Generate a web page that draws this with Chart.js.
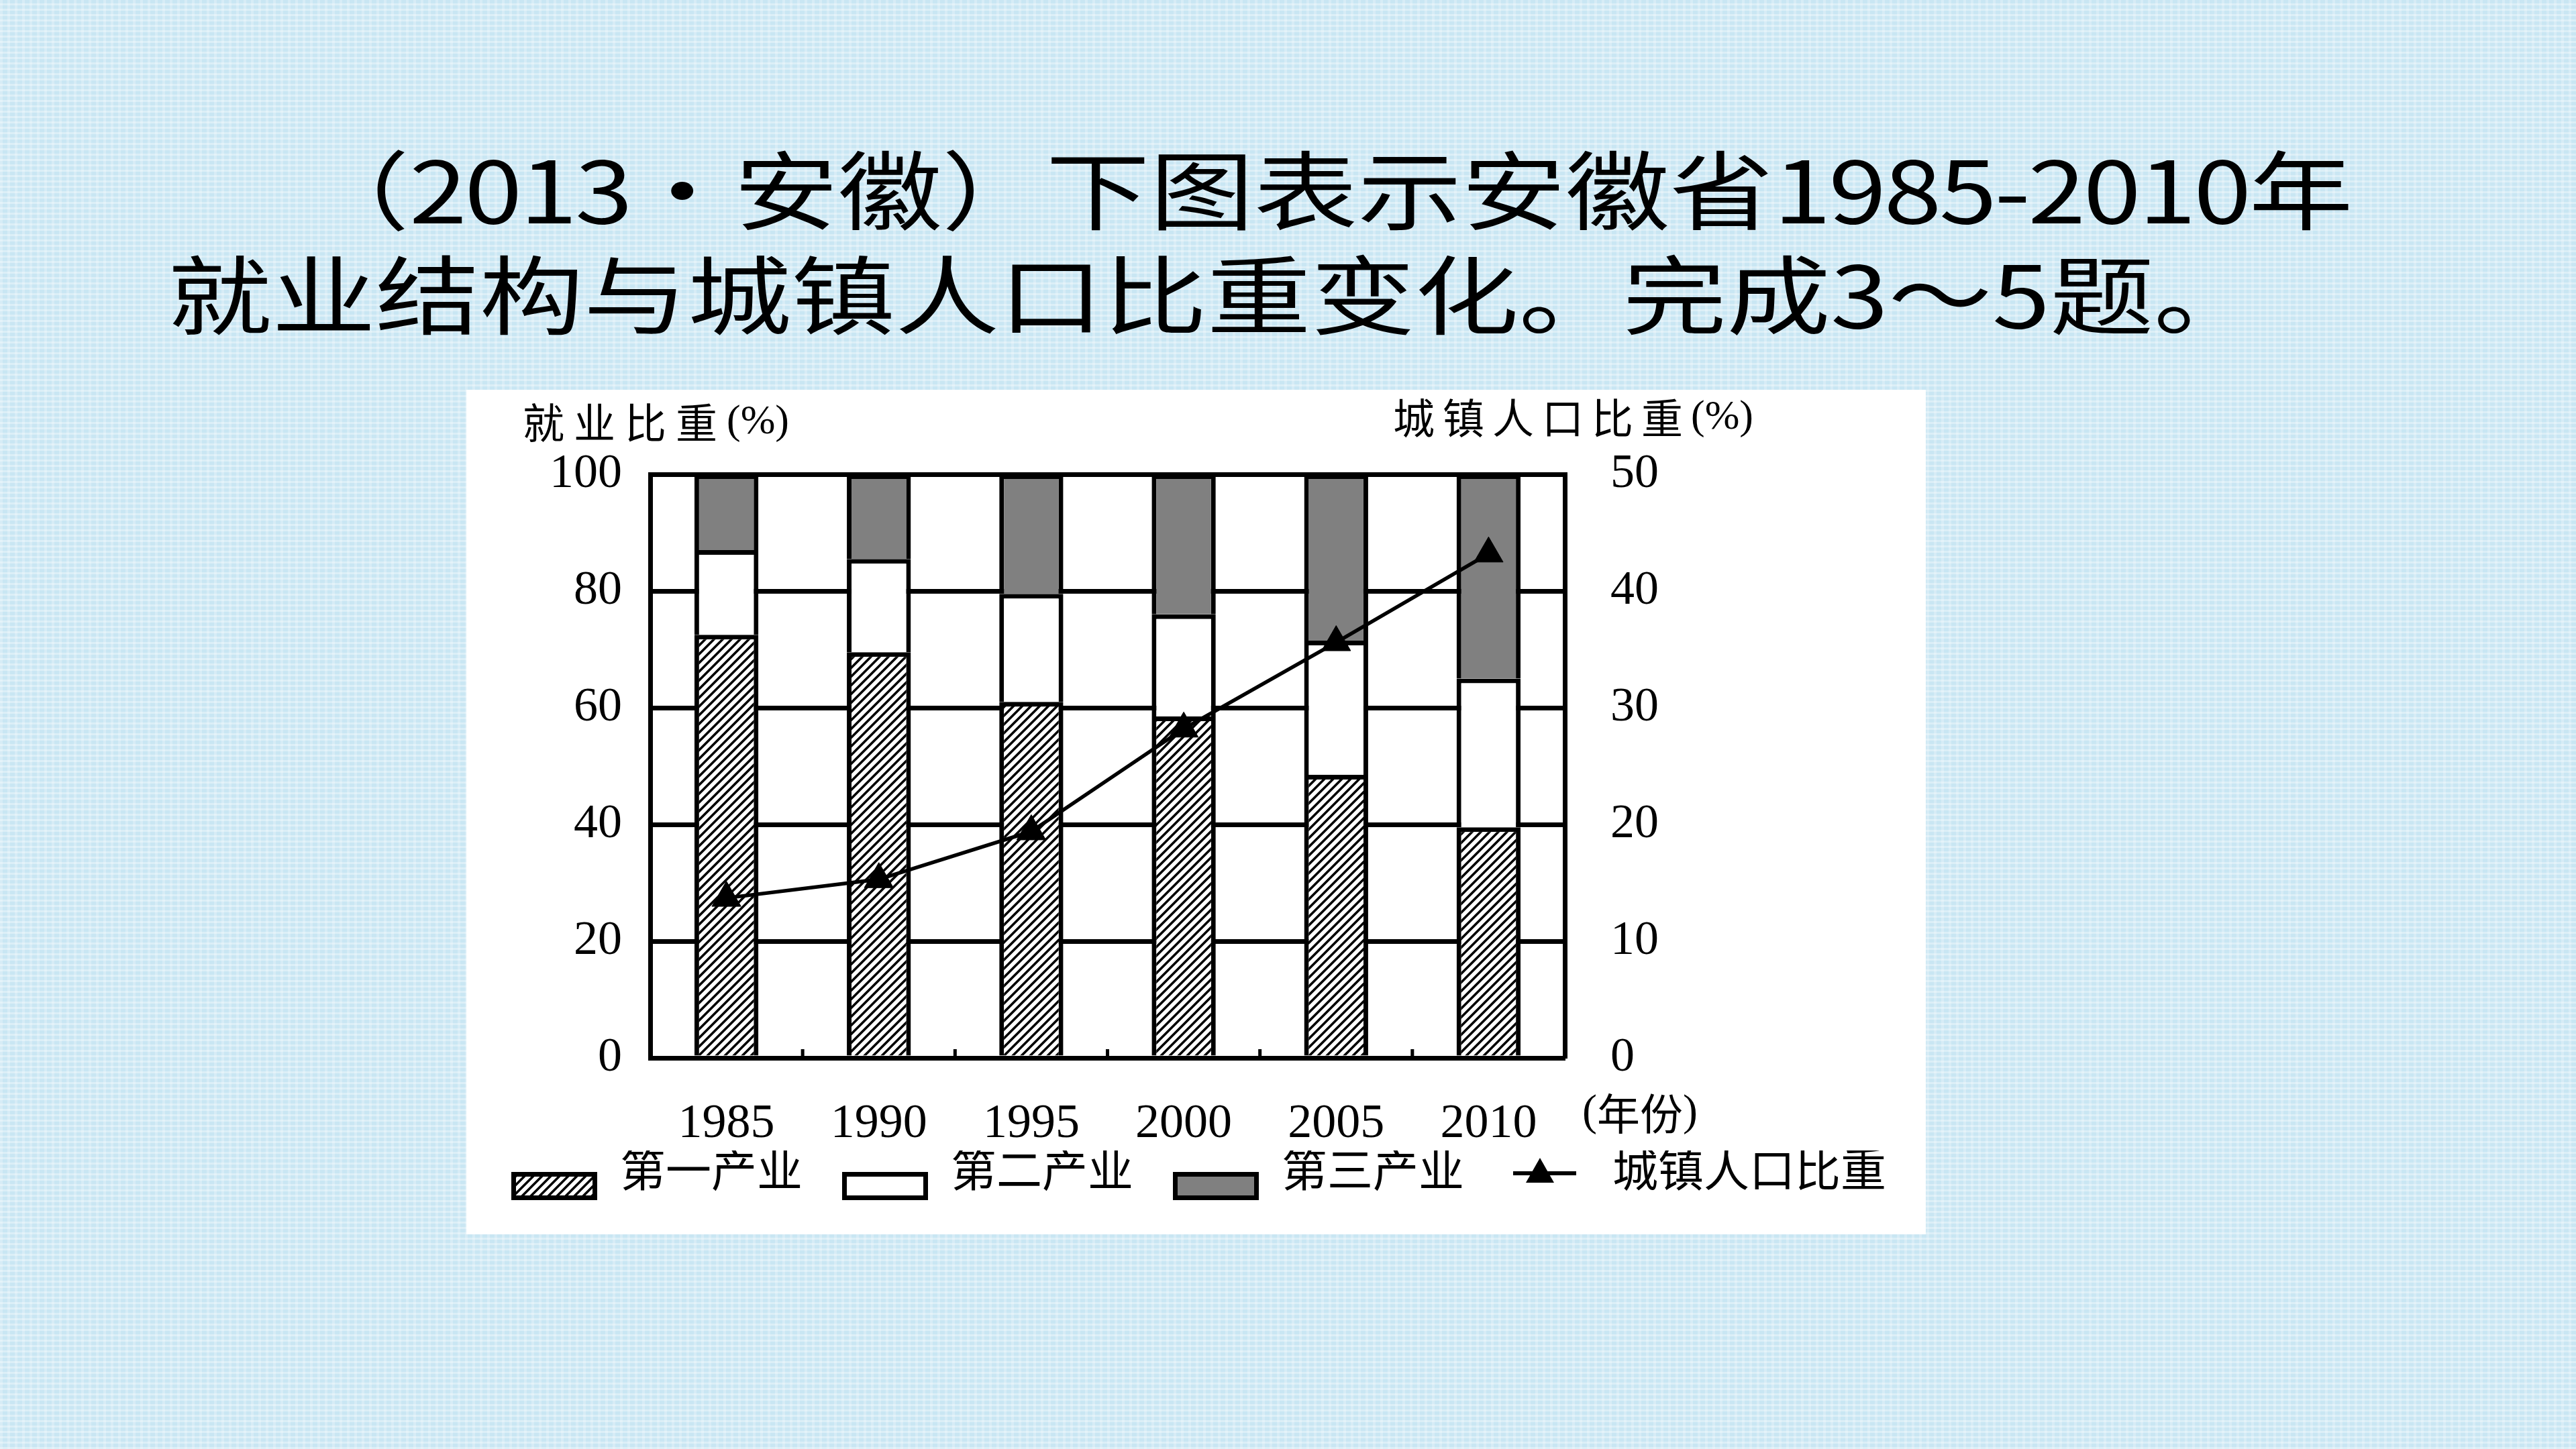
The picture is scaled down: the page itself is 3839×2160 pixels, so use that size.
<!DOCTYPE html>
<html lang="zh-CN">
<head>
    <meta charset="UTF-8">
    <title>安徽省就业结构与城镇人口比重</title>
    <script src="https://cdn.jsdelivr.net/npm/chart.js"></script>
    <style>
        body {
            margin: 0;
            width: 3839px;
            height: 2160px;
            overflow: hidden;
            position: relative;
            font-family: 'Noto Sans CJK SC', sans-serif;
            background-color: #c9e6f3;
            /* faint woven texture like the slide background */
            background-image:
                repeating-linear-gradient(0deg, rgba(255,255,255,0.35) 0 3px, transparent 3px 8px),
                repeating-linear-gradient(90deg, rgba(255,255,255,0.25) 0 4px, transparent 4px 11px);
        }

        .title-line {
            position: absolute;
            font-size: 128px;
            line-height: 128px;
            white-space: nowrap;
            color: #000;
            transform: scaleX(1.21);
            transform-origin: 0 0;
        }

        .num { letter-spacing: -3px; }

        #line1 { left: 455px; top: 214px; }
        #line2 { left: 250px; top: 370px; }

        .chart-box {
            position: absolute;
            left: 695px;
            top: 581px;
            width: 2175px;
            height: 1259px;
            background: #fff;
        }

        canvas { display: block; }
    </style>
</head>
<body>
    <div class="title-line" id="line1">（<span class="num">2013</span>・安徽）下图表示安徽省<span class="num">1985-2010</span>年</div>
    <div class="title-line" id="line2">就业结构与城镇人口比重变化。完成3～5题。</div>

    <div class="chart-box">
        <canvas id="chart" width="2126" height="1259"></canvas>
    </div>

    <script>
        // data
        var years = ['1985', '1990', '1995', '2000', '2005', '2010'];
        var primary = [72.5, 69.5, 61, 58.5, 48.5, 39.5];     // 第一产业
        var secondary = [14.5, 16, 18.5, 17.5, 23, 25.5];     // 第二产业
        var tertiary = [13, 14.5, 20.5, 24, 28.5, 35];        // 第三产业
        var urban = [13.7, 15.3, 19.4, 28.2, 35.6, 43.2];     // 城镇人口比重 (right axis)
        var seriesNames = ['第一产业', '第二产业', '第三产业', '城镇人口比重'];
        var leftTicks = [0, 20, 40, 60, 80, 100];
        var rightTicks = [0, 10, 20, 30, 40, 50];

        var serif = "'Liberation Serif', 'Noto Sans CJK SC', serif";
        Chart.defaults.font.family = serif;
        Chart.defaults.color = '#000';

        // hatch tile for the first sector
        function makeHatch(size, lw) {
            var c = document.createElement('canvas');
            c.width = size;
            c.height = size;
            var g = c.getContext('2d');
            g.fillStyle = '#fff';
            g.fillRect(0, 0, size, size);
            g.strokeStyle = '#000';
            g.lineWidth = lw;
            g.beginPath();
            g.moveTo(0, size); g.lineTo(size, 0);
            g.moveTo(-size / 2, size / 2); g.lineTo(size / 2, -size / 2);
            g.moveTo(size / 2, size * 1.5); g.lineTo(size * 1.5, size / 2);
            g.stroke();
            return c;
        }
        var hatchTile = makeHatch(13, 3.6);

        var canvas = document.getElementById('chart');
        var ctx = canvas.getContext('2d');
        var hatch = ctx.createPattern(hatchTile, 'repeat');

        // legend swatches: 57px blank on the left gives the gap between items,
        // and the box sits a bit lower than the text, as in the figure
        var iconW = 185, gap = 57;
        function legendBox(fill) {
            var c = document.createElement('canvas');
            c.width = iconW;
            c.height = 76;
            var g = c.getContext('2d');
            g.fillStyle = fill === 'hatch' ? g.createPattern(hatchTile, 'repeat') : fill;
            g.fillRect(gap, 34, 128, 42);
            g.strokeStyle = '#000';
            g.lineWidth = 7;
            g.strokeRect(gap + 3.5, 37.5, 121, 35);
            return c;
        }
        function legendLine() {
            var c = document.createElement('canvas');
            c.width = iconW;
            c.height = 76;
            var g = c.getContext('2d');
            g.strokeStyle = '#000';
            g.lineWidth = 6;
            g.beginPath();
            g.moveTo(gap + 14, 36);
            g.lineTo(gap + 108, 36);
            g.stroke();
            g.fillStyle = '#000';
            g.beginPath();
            g.moveTo(gap + 54, 13);
            g.lineTo(gap + 75, 50);
            g.lineTo(gap + 33, 50);
            g.closePath();
            g.fill();
            return c;
        }
        var legendIcons = [legendBox('hatch'), legendBox('#fff'), legendBox('#808080'), legendLine()];

        // axis captions, year unit and the small inner ticks on the x axis
        function drawRuns(c, x, y, runs) {
            runs.forEach(function (r) {
                c.font = r.font;
                c.letterSpacing = r.spacing || '0px';
                c.fillText(r.text, x, y);
                x += c.measureText(r.text).width;
            });
            c.letterSpacing = '0px';
        }

        var decor = {
            id: 'decor',
            afterDraw: function (chart) {
                var c = chart.ctx;
                var area = chart.chartArea;
                var xs = chart.scales.x;
                c.save();
                c.strokeStyle = '#000';
                c.lineWidth = 5;
                for (var i = 0; i < years.length - 1; i++) {
                    var px = (xs.getPixelForValue(i) + xs.getPixelForValue(i + 1)) / 2;
                    c.beginPath();
                    c.moveTo(px, area.bottom - 13);
                    c.lineTo(px, area.bottom + 4);
                    c.stroke();
                }

                c.fillStyle = '#000';
                c.textAlign = 'left';
                c.textBaseline = 'middle';
                var cjk = "62px 'Noto Sans CJK SC'";
                var lat = "62px 'Liberation Serif'";
                drawRuns(c, area.left - 190, area.top - 77, [
                    { text: '就业比重', font: cjk, spacing: '14px' },
                    { text: '(%)', font: lat }
                ]);
                drawRuns(c, area.right - 256, area.top - 84, [
                    { text: '城镇人口比重', font: cjk, spacing: '12px' },
                    { text: '(%)', font: lat }
                ]);
                drawRuns(c, area.right + 26, area.bottom + 83, [
                    { text: '(', font: "66px 'Liberation Serif'" },
                    { text: '年份', font: "64px 'Noto Sans CJK SC'" },
                    { text: ')', font: "66px 'Liberation Serif'" }
                ]);
                c.restore();
            }
        };

        var tickFont = { size: 72 };

        new Chart(ctx, {
            type: 'bar',
            data: {
                labels: years,
                datasets: [{
                    label: seriesNames[0],
                    data: primary,
                    backgroundColor: hatch,
                    order: 1
                }, {
                    label: seriesNames[1],
                    data: secondary,
                    backgroundColor: '#ffffff',
                    order: 1
                }, {
                    label: seriesNames[2],
                    data: tertiary,
                    backgroundColor: '#808080',
                    order: 1
                }, {
                    type: 'line',
                    label: seriesNames[3],
                    data: urban,
                    yAxisID: 'y1',
                    order: 0,
                    borderColor: '#000',
                    borderWidth: 5.5,
                    fill: false,
                    tension: 0,
                    pointStyle: 'triangle',
                    pointRadius: 25,
                    pointBackgroundColor: '#000',
                    pointBorderColor: '#000',
                    pointBorderWidth: 1
                }]
            },
            options: {
                responsive: false,
                animation: false,
                events: [],
                datasets: {
                    bar: {
                        borderColor: '#000',
                        borderWidth: 7,
                        barPercentage: 0.42,
                        categoryPercentage: 1
                    }
                },
                layout: {
                    padding: { top: 126, bottom: 45, left: 0, right: 0 }
                },
                scales: {
                    x: {
                        stacked: true,
                        z: 1,
                        grid: { drawOnChartArea: false, drawTicks: false },
                        border: { color: '#000', width: 7 },
                        ticks: { font: tickFont, padding: 56, maxRotation: 0 },
                        afterFit: function (s) { s.height = 138; }
                    },
                    y: {
                        stacked: true,
                        min: leftTicks[0],
                        max: leftTicks[leftTicks.length - 1],
                        afterBuildTicks: function (s) {
                            s.ticks = leftTicks.map(function (v) { return { value: v }; });
                        },
                        ticks: { font: tickFont, padding: 42 },
                        grid: { color: '#000', lineWidth: 7, drawTicks: false },
                        border: { color: '#000', width: 7 },
                        afterFit: function (s) { s.width = 274; }
                    },
                    y1: {
                        position: 'right',
                        min: rightTicks[0],
                        max: rightTicks[rightTicks.length - 1],
                        afterBuildTicks: function (s) {
                            s.ticks = rightTicks.map(function (v) { return { value: v }; });
                        },
                        ticks: { font: tickFont, padding: 68 },
                        grid: { drawOnChartArea: false, drawTicks: false },
                        border: { color: '#000', width: 7 },
                        afterFit: function (s) { s.width = 489; }
                    }
                },
                plugins: {
                    tooltip: { enabled: false },
                    legend: {
                        position: 'bottom',
                        labels: {
                            usePointStyle: true,
                            pointStyleWidth: iconW,
                            boxHeight: 42,
                            padding: 2,
                            color: '#000',
                            font: { size: 68, family: serif },
                            sort: function (a, b) { return a.datasetIndex - b.datasetIndex; },
                            generateLabels: function (chart) {
                                var items = Chart.defaults.plugins.legend.labels.generateLabels(chart);
                                items.forEach(function (item) {
                                    item.pointStyle = legendIcons[item.datasetIndex];
                                });
                                return items;
                            }
                        }
                    }
                }
            },
            plugins: [decor]
        });
    </script>
</body>
</html>
